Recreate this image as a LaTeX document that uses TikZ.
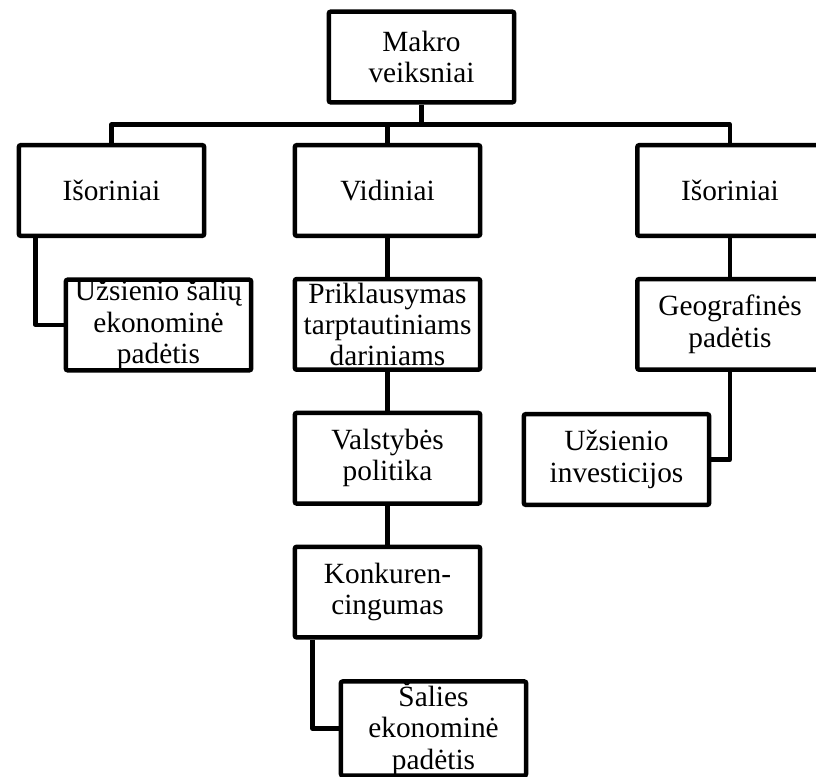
\documentclass[tikz,border=0pt]{standalone}
\usepackage{fontspec}
\setmainfont{Liberation Serif}
\usetikzlibrary{positioning,calc}

\begin{document}
\begin{tikzpicture}[
    x=0.75pt, y=-0.75pt,
    node distance=29pt and 29pt,
    box/.style={draw=black, line width=3.4pt, rounded corners=1.5pt, fill=white, align=center, inner sep=0pt,
                minimum width=139pt, minimum height=68pt, font=\fontsize{22}{23.5}\selectfont},
    link/.style={draw=black, line width=3.2pt, line join=round}
]
\clip (0,0) rectangle (816,776);
% top level
\node[box] (makro) at (421.5,57) {Makro\\veiksniai};
\node[box] (isor1) at (111.5,190.5) {Išoriniai};
\node[box] (vid) at (387.5,190.5) {Vidiniai};
\node[box] (isor2) at (730,190.5) {Išoriniai};
% branches
\node[box] (uzsal) at (158.5,325) {Užsienio šalių\\ekonominė\\padėtis};
\node[box, below=of vid] (prikl) {Priklausymas\\tarptautiniams\\dariniams};
\node[box, below=of prikl] (valst) {Valstybės\\politika};
\node[box, below=of valst] (konk) {Konkuren-\\cingumas};
\node[box] (salies) at (433.5,728.5) {Šalies\\ekonominė\\padėtis};
\node[box, below=of isor2] (geo) {Geografinės\\padėtis};
\node[box] (uzinv) at (616.5,459.5) {Užsienio\\investicijos};
% connectors
\draw[link] (makro.south) -- ++(0,20) coordinate (fork);
\draw[link] (fork) -| (isor1.north);
\draw[link] (fork) -| (vid.north);
\draw[link] (fork) -| (isor2.north);
\draw[link] ($(isor1.south west)+(19,0)$) |- (uzsal.west);
\draw[link] (vid) -- (prikl);
\draw[link] (prikl) -- (valst);
\draw[link] (valst) -- (konk);
\draw[link] ($(konk.south west)+(20,0)$) |- (salies.west);
\draw[link] (isor2) -- (geo);
\draw[link] (geo.south) |- (uzinv.east);
\end{tikzpicture}
\end{document}
